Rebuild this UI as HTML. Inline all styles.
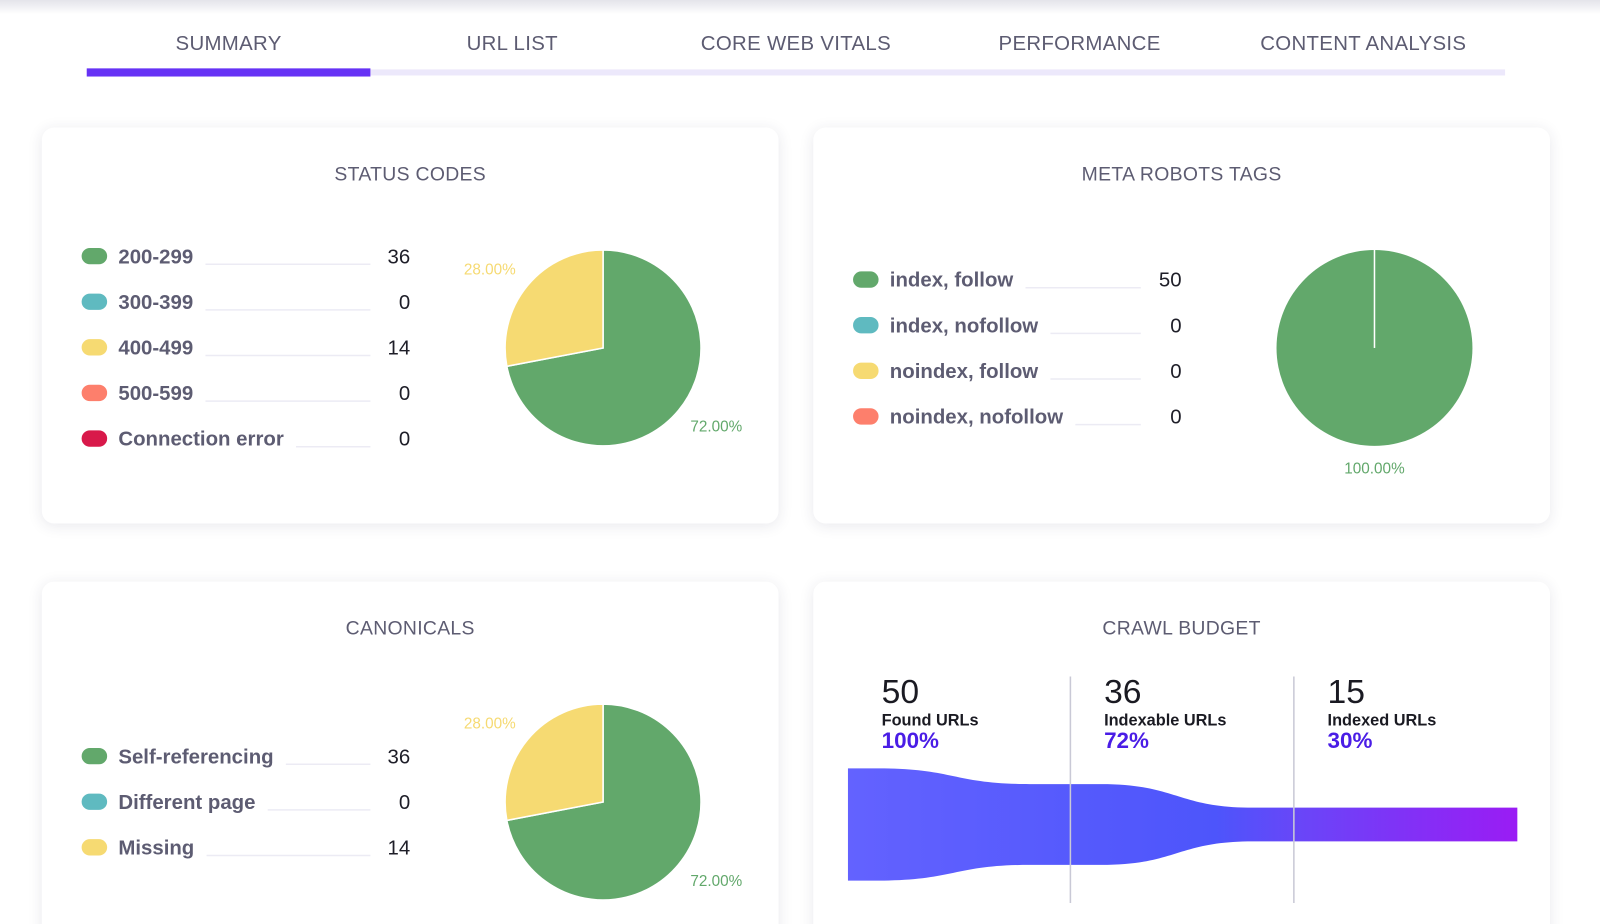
<!DOCTYPE html>
<html><head><meta charset="utf-8">
<style>
html,body{margin:0;padding:0;background:#fff;width:1600px;height:924px;overflow:hidden;font-family:"Liberation Sans",sans-serif;}
#wrap{position:absolute;left:0;top:0;width:1568px;height:906px;overflow:hidden;transform:scale(1.0204);transform-origin:0 0;}
.topshade{position:absolute;left:0;top:0;width:1600px;height:14px;background:linear-gradient(#e4e4ea,#fff);}
.tab{position:absolute;top:32px;width:278px;text-align:center;font-size:20px;color:#5d5c72;letter-spacing:0.3px;}
.track{position:absolute;left:85px;top:68px;width:1390px;height:6px;background:#ece8fb;}
.active{position:absolute;left:85px;top:67px;width:278px;height:8px;background:#6632f5;}
.card{position:absolute;background:#fff;border-radius:12px;box-shadow:0 2px 14px rgba(40,40,80,0.10);}
.title{position:absolute;left:0;right:0;text-align:center;font-size:19px;color:#5d5c72;letter-spacing:0.3px;}
svg{position:absolute;left:0;top:0;}
</style></head><body>
<div id="wrap">
<div class="topshade"></div>
<div class="tab" style="left:85px">SUMMARY</div>
<div class="tab" style="left:363px">URL LIST</div>
<div class="tab" style="left:641px">CORE WEB VITALS</div>
<div class="tab" style="left:919px">PERFORMANCE</div>
<div class="tab" style="left:1197px">CONTENT ANALYSIS</div>
<div class="track"></div>
<div class="active"></div>

<div class="card" style="left:41px;top:125px;width:722px;height:388px"><div class="title" style="top:36px">STATUS CODES</div></div>
<div class="card" style="left:797px;top:125px;width:722px;height:388px"><div class="title" style="top:36px">META ROBOTS TAGS</div></div>
<div class="card" style="left:41px;top:570px;width:722px;height:360px"><div class="title" style="top:36px">CANONICALS</div></div>
<div class="card" style="left:797px;top:570px;width:722px;height:360px"><div class="title" style="top:36px">CRAWL BUDGET</div></div>

<svg id="chart" width="1568" height="906">
<defs>
<linearGradient id="fg" x1="0" x2="1" y1="0" y2="0">
<stop offset="0" stop-color="#6362ff"/><stop offset="0.55" stop-color="#4d55fb"/><stop offset="0.68" stop-color="#6a45f8"/><stop offset="1" stop-color="#9a1cf4"/>
</linearGradient>
</defs>
</svg>
</div>
<script>
const statusLabels=["200-299","300-399","400-499","500-599","Connection error"];
const statusValues=[36,0,14,0,0];
const statusColors=["#62a86b","#5fbac0","#f6da72","#fd7f6c","#d8194a"];
const robotsLabels=["index, follow","index, nofollow","noindex, follow","noindex, nofollow"];
const robotsValues=[50,0,0,0];
const canonLabels=["Self-referencing","Different page","Missing"];
const canonValues=[36,0,14];
const funnelValues=[50,36,15];
const funnelLabels=["Found URLs","Indexable URLs","Indexed URLs"];
const funnelPcts=["100%","72%","30%"];

const NS="http://www.w3.org/2000/svg";
const svgEl=document.getElementById('chart');
function mk(tag,attrs,parent){const e=document.createElementNS(NS,tag);for(const k in attrs)e.setAttribute(k,attrs[k]);(parent||svgEl).appendChild(e);return e;}
function txt(x,y,s,attrs){const t=mk('text',Object.assign({x:x,y:y},attrs));t.textContent=s;return t;}

function legend(labels,values,colors,x0,y0,step,lineEnd,valRight,prefix){
  labels.forEach((l,i)=>{
    const y=y0+i*step;
    const sw=mk('rect',{x:x0,y:y-8,width:25,height:16,rx:8,fill:colors[i]});
    
    
    const t=txt(x0+36,y+7,l,{'font-size':20,'font-weight':'bold',fill:'#5d5c72'});
    
    
    let w=0;try{w=t.getComputedTextLength();}catch(e){w=l.length*10;}
    const ln=mk('line',{x1:x0+36+w+12,x2:lineEnd,y1:y+8,y2:y+8,stroke:'#ecebf4','stroke-width':1.5});
    
    
    const v=txt(valRight,y+7,String(values[i]),{'font-size':20,fill:'#1e1e28','text-anchor':'end'});
    
    
  });
}
function pie(values,colors,cx,cy,r,prefix){
  const tot=values.reduce((a,b)=>a+b,0);
  let a=0;
  values.forEach((v,i)=>{
    if(v<=0)return;
    const f=v/tot;
    const a0=a,a1=a+f*2*Math.PI;a=a1;
    let el;
    if(f>=0.9999){
      el=mk('circle',{cx:cx,cy:cy,r:r,fill:colors[i]});
      mk('line',{x1:cx,y1:cy,x2:cx,y2:cy-r,stroke:'#fff','stroke-width':1.5});
    } else {
      const p=ang=>[cx+r*Math.sin(ang),cy-r*Math.cos(ang)];
      const s=p(a0),e=p(a1);
      el=mk('path',{d:`M${cx},${cy}L${s[0]},${s[1]}A${r},${r} 0 ${f>0.5?1:0} 1 ${e[0]},${e[1]}Z`,fill:colors[i],stroke:'#fff','stroke-width':1.5});
    }
    
    
    const mid=(a0+a1)/2, lr=r+48;
    let lx=cx+lr*Math.sin(mid), ly=cy-lr*Math.cos(mid)*0.84+5;
    if(f>=0.9999){lx=cx;ly=cy+r+27;}
    const t=txt(lx,ly,(f*100).toFixed(2)+'%',{'font-size':15,fill:colors[i],'text-anchor':'middle'});
    
    
  });
}
legend(statusLabels,statusValues,statusColors,80,251,44.7,363,402,'status');
pie(statusValues,statusColors,591,341,96,'status-pie');
legend(robotsLabels,robotsValues,statusColors,836,274,44.7,1118,1158,'robots');
pie(robotsValues,statusColors,1347,341,96,'robots-pie');
legend(canonLabels,canonValues,statusColors,80,741,44.7,363,402,'canon');
pie(canonValues,statusColors,591,786,96,'canon-pie');

// funnel
const fx=[831,1049,1268,1487], fcy=808, fmaxH=110;
const fmax=Math.max(...funnelValues);
const hh=v=>v/fmax*fmaxH/2;
const nF=funnelValues.length;
let fd=`M${fx[0]},${fcy-hh(funnelValues[0])}`;
for(let i=0;i<nF;i++){
  const x0=fx[i],x1=fx[i+1];
  const h0=hh(funnelValues[i]), h1=i+1<nF?hh(funnelValues[i+1]):h0;
  const xa=x0+30,xb=x1-40,xm=(xa+xb)/2;
  if(i+1<nF){
    fd+=`L${xa},${fcy-h0}C${xm},${fcy-h0} ${xm},${fcy-h1} ${xb},${fcy-h1}L${x1},${fcy-h1}`;
  } else fd+=`L${x1},${fcy-h0}`;
}
fd+=`L${fx[nF]},${fcy+hh(funnelValues[nF-1])}`;
for(let i=nF-1;i>=0;i--){
  const x0=fx[i],x1=fx[i+1];
  const h0=hh(funnelValues[i]), h1=i+1<nF?hh(funnelValues[i+1]):h0;
  const xa=x0+30,xb=x1-40,xm=(xa+xb)/2;
  if(i+1<nF){
    fd+=`L${xb},${fcy+h1}C${xm},${fcy+h1} ${xm},${fcy+h0} ${xa},${fcy+h0}L${x0},${fcy+h0}`;
  }
}
fd+='Z';
const fp=mk('path',{d:fd,fill:'url(#fg)'});


[1,2].forEach(i=>{
  const l=mk('line',{x1:fx[i],x2:fx[i],y1:663,y2:885,stroke:'#c9c9d6','stroke-width':1.5});
  
  
});
funnelValues.forEach((v,i)=>{
  const x=fx[i]+33;
  const n=txt(x,689,String(v),{'font-size':33,fill:'#1a1a22'});
  
  
  const l=txt(x,711,funnelLabels[i],{'font-size':16,'font-weight':'bold',fill:'#1a1a22'});
  
  
  const p=txt(x,733,funnelPcts[i],{'font-size':22,'font-weight':'bold',fill:'#4a1de6'});
  
  
});
</script>
</body></html>
